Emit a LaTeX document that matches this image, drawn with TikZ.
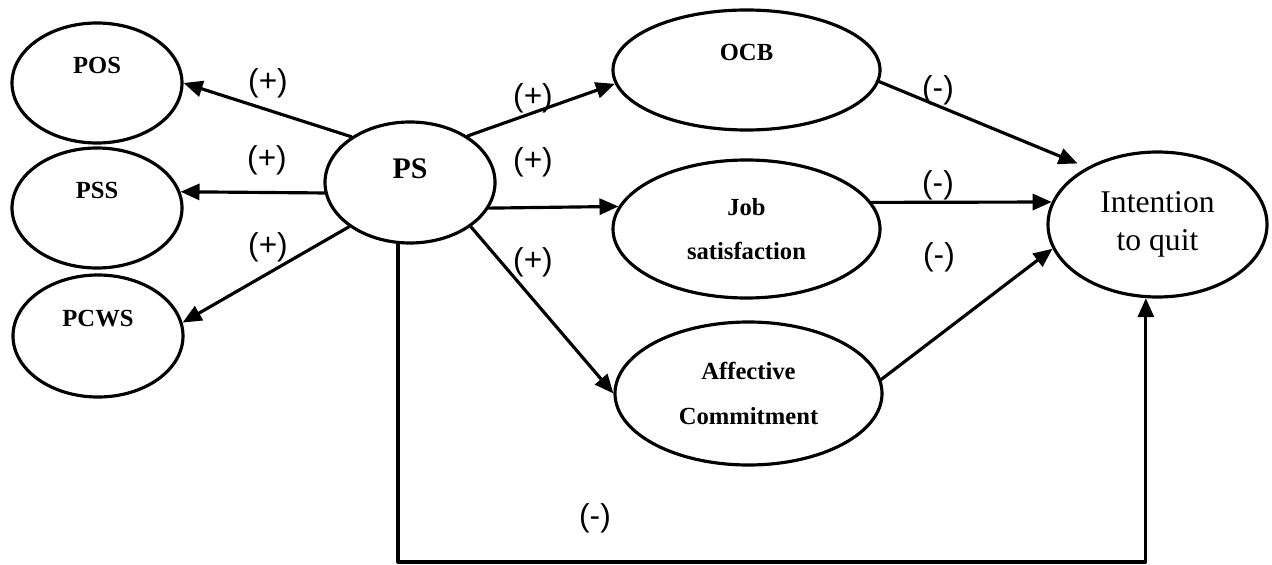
\documentclass[tikz,border=0pt]{standalone}
\usepackage{fontspec}
\setmainfont{Liberation Serif}
\newfontfamily\signfont{Liberation Sans}
\usetikzlibrary{arrows.meta,shapes.geometric}
\begin{document}
\begin{tikzpicture}[line join=round,line cap=round,line width=1.8pt,
	>={Triangle[length=0.38cm,width=0.32cm]},
	factor/.style={draw,ellipse,inner sep=0pt,align=center,
		font=\bfseries\fontsize{14}{25.5}\selectfont},
	small/.style={factor,minimum width=3.4cm,minimum height=2.4cm,text depth=0.72cm},
	wide/.style={factor,minimum width=5.34cm},
	sign/.style={font=\signfont\fontsize{18}{21}\selectfont}]
	\useasboundingbox (0,0) rectangle (25.44,11.28);
	\node[small] (pos) at (1.94,9.62) {POS};
	\node[small] (pss) at (1.94,7.12) {PSS};
	\node[small,minimum height=2.44cm] (pcws) at (1.96,4.56) {PCWS};
	\node[small,minimum height=2.42cm,text depth=0.56cm,
		font=\bfseries\fontsize{17}{20}\selectfont] (ps) at (8.2,7.63) {PS};
	\node[wide,minimum height=2.4cm,text depth=0.72cm] (ocb) at (14.93,9.88) {OCB};
	\node[wide,minimum height=2.76cm] (job) at (14.93,6.70) {Job\\satisfaction};
	\node[wide,minimum height=2.86cm] (aff) at (14.97,3.41) {Affective\\Commitment};
	\node[factor,minimum width=4.38cm,minimum height=2.9cm,
		font=\fontsize{18}{21.5}\selectfont] (quit) at (23.15,6.79) {Intention\\to quit};
	\coordinate (low) at (0,0.04);
	\draw[->] (ps.142) -- (pos.east);
	\draw[->] (ps.187) -- (pss.11);
	\draw[->] (ps.216) -- (pcws.9);
	\draw[->] (ps.39) -- (ocb.186);
	\draw[->] (ps.-18) -- (job.170);
	\draw[->] (ps.-36) -- (aff.west);
	\draw[->,shorten >=0.2cm] (ocb.-5) -- (quit.141);
	\draw[->] (job.12) -- (quit.168);
	\draw[->] (aff.6) -- (quit.193);
	\draw[->] (ps.259) -- (ps.259 |- low) -| (quit.261);
	\node[sign] (s1) at (5.36,9.62) {(+)};
	\node[sign] (s2) at (5.34,8.08) {(+)};
	\node[sign] (s3) at (5.36,6.34) {(+)};
	\node[sign] (s4) at (10.66,9.32) {(+)};
	\node[sign] (s5) at (10.66,8.04) {(+)};
	\node[sign] (s6) at (10.66,6.04) {(+)};
	\node[sign] (s7) at (18.76,9.48) {(-)};
	\node[sign] (s8) at (18.76,7.58) {(-)};
	\node[sign] (s9) at (18.78,6.14) {(-)};
	\node[sign] (s10) at (11.9,0.92) {(-)};
\end{tikzpicture}
\end{document}
